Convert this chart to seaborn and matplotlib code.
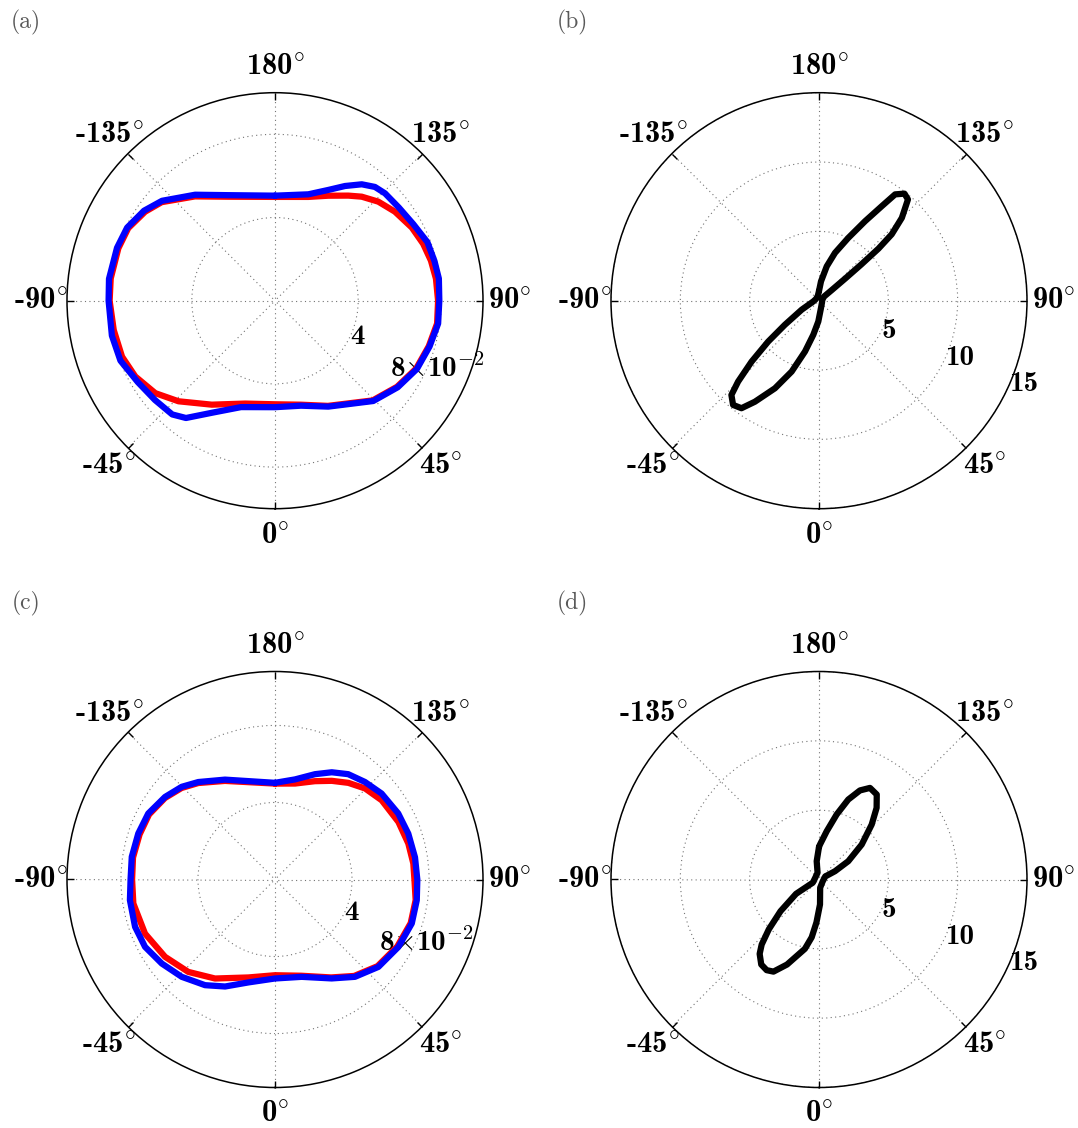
import numpy as np
import matplotlib
matplotlib.use("Agg")
import matplotlib.pyplot as plt
import matplotlib.transforms as mtransforms
import seaborn as sns

# ---------------- data (theta in degrees, 0 at bottom, counter-clockwise) ----------------
theta_a_red = [-180, -155.8, -142.5, -131.0, -124.4, -116.3, -108.5, -97.7, -90, -79.7, -69.9,
               -61.5, -52.3, -43.8, -31.3, -16.2, 0, 13.9, 26.7, 44.4, 54.8, 64.3, 73.5, 82, 90,
               97.8, 104.4, 111.0, 118.1, 126.6, 133.8, 140.2, 145.1, 153.1, 162.2, 180]
r_a_red = [0.0499, 0.0548, 0.0632, 0.0722, 0.0757, 0.0787, 0.0794, 0.0797, 0.0795, 0.0788, 0.0783,
           0.0764, 0.0727, 0.0670, 0.0585, 0.0515, 0.0498, 0.0515, 0.0566, 0.0671, 0.0718, 0.0753,
           0.0771, 0.0787, 0.0784, 0.0781, 0.0774, 0.0763, 0.0746, 0.0718, 0.0688, 0.0651, 0.0616,
           0.0566, 0.0524, 0.0499]

theta_a_blue = [-180, -156.1, -143.0, -131.5, -124.5, -116.3, -108.5, -97.5, -90, -77.9, -68.8,
                -59.3, -50.4, -42.1, -37.2, -28.8, -17.7, 0, 13.9, 26.7, 44.4, 54.8, 64.3, 73.5,
                82, 90, 97.7, 104, 111, 119, 127, 134.3, 138.7, 143.3, 148.6, 154.3, 162.6, 180]
r_a_blue = [0.0505, 0.0555, 0.0638, 0.0725, 0.0764, 0.0793, 0.0801, 0.0805, 0.0800, 0.0802, 0.0797,
            0.0767, 0.0749, 0.0737, 0.0708, 0.0613, 0.0537, 0.0512, 0.0520, 0.0570, 0.0675, 0.0722,
            0.0757, 0.0775, 0.0792, 0.0790, 0.0795, 0.0790, 0.0785, 0.0760, 0.0745, 0.0739, 0.0728,
            0.0698, 0.0646, 0.0591, 0.0536, 0.0505]

theta_b = [-180, -165, -120, -83, -62.5, -54.8, -51.2, -47.9, -45, -42.9, -39.5, -35.8, -32.4,
           -26.7, -21.1, -15.4, -9.5, -1.9, 15, 60, 110, 129.5, 129.8, 130.2, 130.6, 131.2, 132.4,
           135, 138.7, 141.4, 144.4, 146.4, 149.9, 155, 161.5, 167.3, 174.1, 180]
r_b = [0.7, 0.35, 0.25, 0.41, 1.41, 3.01, 4.70, 6.55, 8.25, 9.28, 9.74, 9.56, 8.63, 7.07, 5.48,
       3.80, 2.49, 1.50, 0.55, 0.25, 0.25, 0.5, 1.2, 2.5, 4.0, 5.7, 7.1, 8.45, 9.72, 9.88, 9.43,
       8.19, 6.63, 5.0, 3.64, 2.54, 1.40, 0.7]

theta_c_red = [-180, -153.1, -141.5, -134.4, -126.5, -117.3, -108.4, -98.8, -90, -80.4, -67.4,
               -54.9, -43.2, -31.2, -15.2, 0, 15.3, 29.8, 39.4, 49.8, 61.3, 72.2, 81.7, 90, 96.6,
               105.1, 115.0, 126.6, 135.3, 142.8, 150.1, 157.9, 168.2, 180]
r_c_red = [0.0498, 0.0574, 0.0640, 0.0679, 0.0711, 0.0736, 0.0741, 0.0746, 0.0742, 0.0746, 0.0731,
           0.0698, 0.0658, 0.0601, 0.0527, 0.0497, 0.0518, 0.0586, 0.0648, 0.0697, 0.0724, 0.0740,
           0.0738, 0.0724, 0.0723, 0.0717, 0.0707, 0.0690, 0.0665, 0.0630, 0.0591, 0.0551, 0.0509,
           0.0498]

theta_c_blue = [-180, -153.4, -141.8, -134.8, -126.9, -117.5, -108.6, -99.0, -90, -81.9, -71.3,
                -62.6, -53.4, -43.8, -33.5, -25.0, -14.5, 0, 15.3, 29.8, 39.4, 49.8, 61.3, 72.2,
                81.7, 90, 99.0, 109.0, 118.2, 128.9, 137.3, 145.2, 152.1, 159.2, 168.7, 180]
r_c_blue = [0.0502, 0.0580, 0.0644, 0.0683, 0.0714, 0.0742, 0.0749, 0.0753, 0.0750, 0.0761, 0.0767,
            0.0760, 0.0732, 0.0700, 0.0658, 0.0613, 0.0552, 0.0514, 0.0524, 0.0592, 0.0654, 0.0703,
            0.0730, 0.0746, 0.0744, 0.0739, 0.0736, 0.0732, 0.0726, 0.0711, 0.0689, 0.0666, 0.0630,
            0.0585, 0.0530, 0.0502]

theta_d = [-180, -172.8, -168, -120, -63, -58, -50.5, -45.2, -41.4, -38.6, -34.2, -30, -26.3,
           -20.6, -11.5, -7.2, -3.4, 2.3, 8, 60, 116, 117.4, 122, 129.3, 136.2, 141.2, 145.8,
           150.9, 155.3, 159.9, 164.8, 170.9, 178.4, 180]
r_d = [2.35, 1.33, 0.5, 0.3, 0.5, 1.95, 3.6, 5.1, 6.25, 6.86, 7.41, 7.55, 7.41, 6.55, 5.1, 4.2,
       3.1, 1.8, 0.6, 0.3, 0.5, 1.3, 2.49, 3.98, 5.49, 6.63, 7.41, 7.56, 7.07, 6.14, 4.86, 3.53,
       2.52, 2.35]

theta_tick_angles = [0, 45, 90, 135, 180, 225, 270, 315]
theta_tick_labels = [r"0$^{\circ}$", r"45$^{\circ}$", r"90$^{\circ}$", r"135$^{\circ}$",
                     r"180$^{\circ}$", r"-135$^{\circ}$", r"-90$^{\circ}$", r"-45$^{\circ}$"]
r_ticks_small = [0.04, 0.08]
r_labels_small = ["4", r"8$\times$10$^{\mathbf{-2}}$"]
r_ticks_big = [5, 10, 15]
r_labels_big = ["5", "10", "15"]
panel_labels = ["(a)", "(b)", "(c)", "(d)"]

# ---------------- style ----------------
sns.set_theme(style="white")
plt.rcParams["font.family"] = ["cmb10", "DejaVu Sans"]
plt.rcParams["mathtext.fontset"] = "cm"
plt.rcParams["axes.unicode_minus"] = False

W, H = 1078, 1128
fig = plt.figure(figsize=(W / 100, H / 100), dpi=100)
fig.patch.set_facecolor("white")

R = 208.0
centers = [(275, 300.7), (819, 300.7), (275, 879.5), (819, 879.5)]
axes = []
for cx, cy in centers:
    rect = [(cx - R) / W, 1 - (cy + R) / H, 2 * R / W, 2 * R / H]
    axes.append(fig.add_axes(rect, projection="polar"))


def style_axis(ax, rmax, rticks, rlabels):
    ax.set_theta_zero_location("S")
    ax.set_theta_direction(1)
    ax.set_ylim(0, rmax)
    ax.set_thetagrids(theta_tick_angles, theta_tick_labels, fontsize=22, color="black")
    ax.set_rgrids(rticks, labels=rlabels, angle=67.5, fontsize=21, color="black")
    ax.grid(True, color="0.45", linestyle=(1.5, (1, 3)), linewidth=0.8)
    ax.spines["polar"].set_color("black")
    ax.spines["polar"].set_linewidth(1.1)
    # tick1 sits at the centre of a polar axes, tick2 on the outer circle
    ax.tick_params(axis="x", which="major", bottom=False, top=True, direction="in",
                   length=5, width=1, pad=12, colors="black")
    ax.tick_params(axis="y", left=False, right=False, length=0)
    ax.set_xlabel("")
    ax.set_ylabel("")
    ax.set_facecolor("white")
    for t in ax.yaxis.get_major_ticks():
        lab = t.label1
        lab.set_verticalalignment("center")
        if "times" in lab.get_text():
            lab.set_horizontalalignment("center")
            off = mtransforms.ScaledTranslation(9 / 100, -4 / 100, fig.dpi_scale_trans)
        else:
            off = mtransforms.ScaledTranslation(-2 / 100, -4 / 100, fig.dpi_scale_trans)
        lab.set_transform(lab.get_transform() + off)


def draw(ax, th, r, color):
    sns.lineplot(x=np.deg2rad(th), y=r, ax=ax, color=color, linewidth=4.5,
                 sort=False, estimator=None)
    line = ax.lines[-1]
    line.set_solid_joinstyle("round")
    line.set_solid_capstyle("round")


ax_a, ax_b, ax_c, ax_d = axes
draw(ax_a, theta_a_red, r_a_red, "#ff0000")
draw(ax_a, theta_a_blue, r_a_blue, "#0000ff")
draw(ax_b, theta_b, r_b, "black")
draw(ax_c, theta_c_red, r_c_red, "#ff0000")
draw(ax_c, theta_c_blue, r_c_blue, "#0000ff")
draw(ax_d, theta_d, r_d, "black")

style_axis(ax_a, 0.1, r_ticks_small, r_labels_small)
style_axis(ax_b, 15, r_ticks_big, r_labels_big)
style_axis(ax_c, 0.108, r_ticks_small, r_labels_small)
style_axis(ax_d, 15, r_ticks_big, r_labels_big)

label_pos = [(26, 22), (572, 22), (26, 603), (572, 603)]
for (px, py), txt in zip(label_pos, panel_labels):
    fig.text(px / W, 1 - py / H, txt, fontfamily="cmr10", fontsize=17, color="0.35",
             ha="center", va="center")

fig.savefig("out.png", dpi=100, facecolor="white")
